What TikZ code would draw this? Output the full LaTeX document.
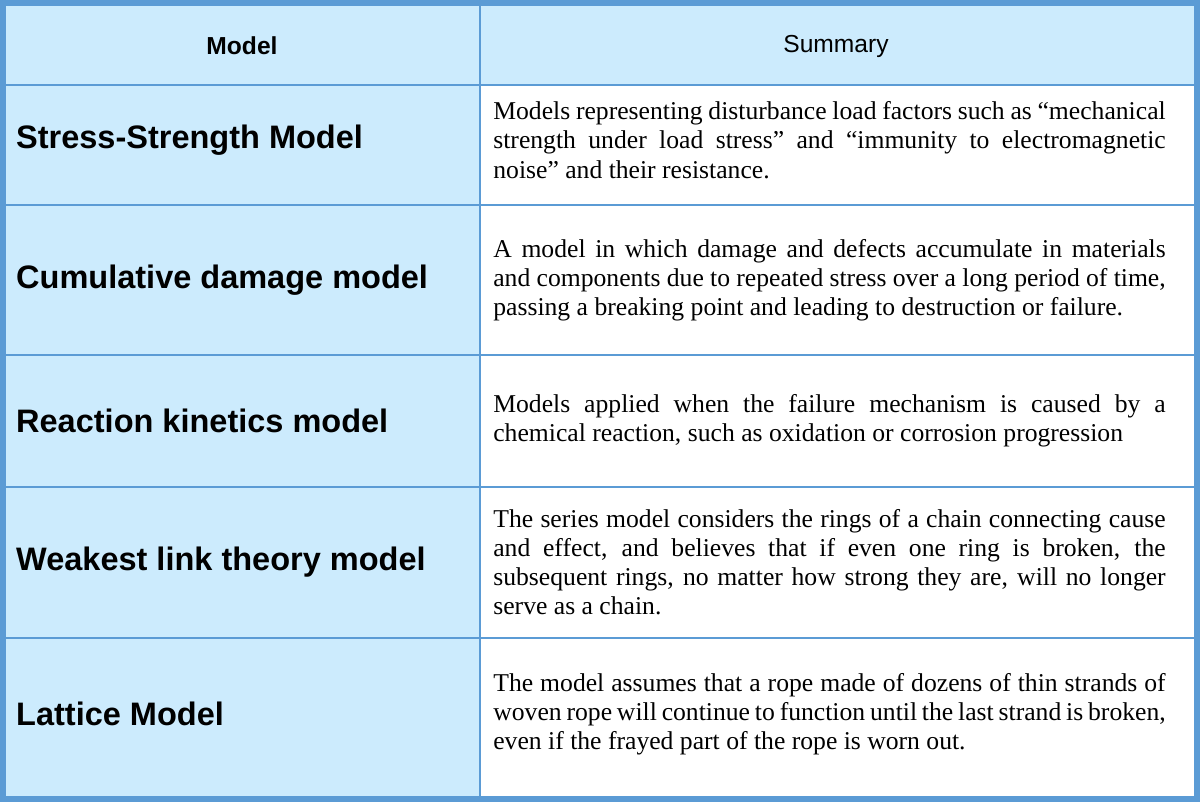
\documentclass[tikz,border=0pt]{standalone}
\usepackage{fontspec}
\setmainfont{Liberation Serif}
\setsansfont{Liberation Sans}
\definecolor{cellblue}{HTML}{CCEBFD}
\definecolor{lineblue}{HTML}{5B9BD5}
\hyphenpenalty=10000
\exhyphenpenalty=10000
\begin{document}
\begin{tikzpicture}[x=0.02cm,y=-0.02cm,
  model/.style = {anchor=west, font=\sffamily\bfseries\fontsize{18.5}{21}\selectfont},
  head/.style = {font=\sffamily\fontsize{14}{16}\selectfont},
  summary/.style = {anchor=west, text width=13.45cm, align=justify, inner sep=0pt,
    font=\fontsize{14.6}{16.6}\selectfont}]
	\useasboundingbox (0,0) rectangle (1200,802);
	\fill[cellblue] (5,5) rectangle (480,797);
	\fill[cellblue] (480,5) rectangle (1195,85);
	
	% grid
	\foreach \y in {85,205,355,487,638}
		\draw[lineblue, line width=0.8pt] (5,\y) -- (1195,\y);
	\draw[lineblue, line width=0.8pt] (480,5) -- (480,797);
	\draw[lineblue, line width=3pt] (3,3) rectangle (1197,799);
	
	\node[head] (hmodel) at (242,46) {\textbf{Model}};
	\node[head] (hsum) at (836,46) {Summary};
	
	\node[model] (m1) at (10,140) {Stress-Strength Model};
	\node[model] (m2) at (10,280) {Cumulative damage model};
	\node[model] (m3) at (10,421) {Reaction kinetics model};
	\node[model] (m4) at (10,562) {Weakest link theory model};
	\node[model] (m5) at (10,714) {Lattice Model};
	
	\node[summary] (s1) at (493,140) {Models representing disturbance load factors such as “mechanical strength under load stress” and “immunity to electromagnetic noise” and their resistance.};
	\node[summary] (s2) at (493,280) {A model in which damage and defects accumulate in materials and components due to repeated stress over a long period of time, passing a breaking point and leading to destruction or failure.};
	\node[summary] (s3) at (493,421) {Models applied when the failure mechanism is caused by a chemical reaction, such as oxidation or corrosion progression};
	\node[summary] (s4) at (493,562) {The series model considers the rings of a chain connecting cause and effect, and believes that if even one ring is broken, the subsequent rings, no matter how strong they are, will no longer serve as a chain.};
	\node[summary] (s5) at (493,714) {The model assumes that a rope made of dozens of thin strands of woven rope will continue to function until the last strand is broken, even if the frayed part of the rope is worn out.};
\end{tikzpicture}
\end{document}
